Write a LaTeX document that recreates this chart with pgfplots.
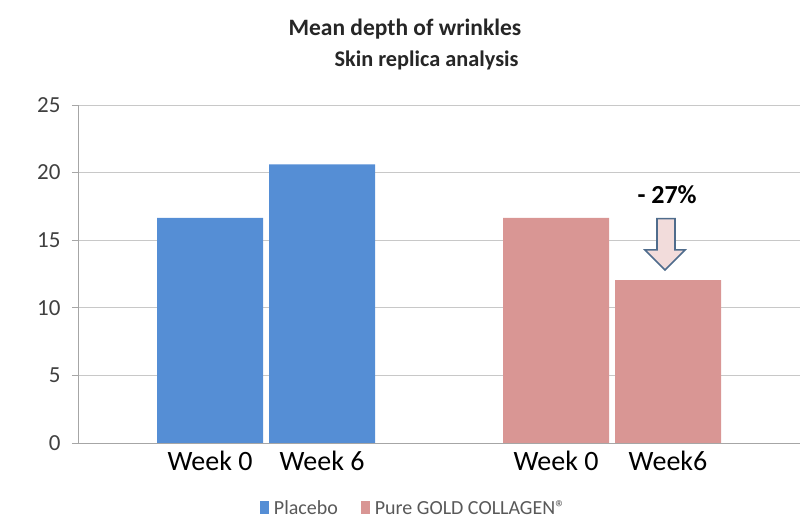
\documentclass[border=0pt]{standalone}
\usepackage{pgfplots}
\pgfplotsset{compat=1.18}
\usepackage{fontspec}
\setmainfont{Carlito}
\definecolor{cblue}{HTML}{558ED5}
\definecolor{cpink}{HTML}{D99694}
\definecolor{gridc}{HTML}{C8C8C8}
\definecolor{axc}{HTML}{A6A6A6}
\definecolor{tickc}{HTML}{404040}
\definecolor{legc}{HTML}{595959}
\definecolor{arrowc}{HTML}{4F6C8C}
\definecolor{arrowf}{HTML}{F2DCDB}
\begin{document}
\begin{tikzpicture}
\useasboundingbox (-78pt,-86pt) rectangle (722pt,443pt);
\begin{axis}[
  scale only axis,
  width=722pt, height=338pt,
  xmin=78, xmax=800, ymin=0, ymax=25,
  ybar, bar shift=0pt, bar width=106,
  axis x line*=bottom, axis y line*=left,
  axis line style={axc, line width=0.8pt},
  ytick={0,5,10,15,20,25},
  ymajorgrids, grid style={gridc, line width=0.8pt},
  tick align=outside, major tick length=6pt,
  ytick style={axc, line width=0.8pt},
  xtick={210,322,556,668},
  xticklabels={Week 0, Week 6, Week 0, Week6},
  xtick style={draw=none},
  /pgf/number format/assume math mode=true,
  yticklabel style={font=\fontsize{23}{27}\selectfont, text=tickc, xshift=-8pt},
  xticklabel style={font=\fontsize{28}{32}\selectfont, text=black, yshift=1pt},
  legend style={draw=none, at={(rel axis cs:0.467,0)}, yshift=-65pt, anchor=center,
    legend columns=2, font=\fontsize{20}{23}\selectfont, text=legc,
    nodes={inner xsep=5pt},
    /tikz/every even column/.append style={column sep=18pt}},
  legend image code/.code={\fill (0pt,-6.5pt) rectangle (9pt,6.5pt);},
]
\addplot[fill=cblue, draw=none] coordinates {(210,16.65) (322,20.6)};
\addlegendentry{Placebo}
\addplot[fill=cpink, draw=none] coordinates {(556,16.65) (668,12.05)};
\addlegendentry{Pure GOLD COLLAGEN®}
\draw[arrowc, line width=1.6pt, fill=arrowf]
  (axis cs:657,16.6) -- (axis cs:675,16.6) -- (axis cs:675,14.28) -- (axis cs:685,14.28)
  -- (axis cs:665,12.8) -- (axis cs:645,14.28) -- (axis cs:657,14.28) -- cycle;
\node[anchor=base west, font=\bfseries\fontsize{26}{30}\selectfont] at (axis cs:634,17.75) {- 27\%};
\end{axis}
\node[anchor=base west, font=\bfseries\fontsize{23.5}{28}\selectfont, text=black!85] at (207pt,407pt) {Mean depth of wrinkles};
\node[anchor=base west, font=\bfseries\fontsize{22.3}{28}\selectfont, text=black!85] at (253pt,376pt) {Skin replica analysis};
\end{tikzpicture}
\end{document}
